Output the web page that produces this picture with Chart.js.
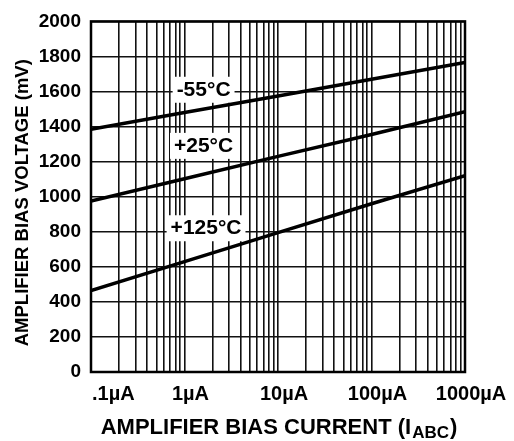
<!DOCTYPE html>
<html>
<head>
<meta charset="utf-8">
<script src="https://cdn.jsdelivr.net/npm/chart.js@4.4.0/dist/chart.umd.min.js"></script>
<style>
html, body { margin: 0; padding: 0; background: #fff; }
#wrap { width: 514px; height: 441px; }
</style>
</head>
<body>
<div id="wrap"><canvas id="chart"></canvas></div>
<script>
// amplifier bias current, µA
const currents = [0.1, 1, 10, 100, 1000];
// bias voltage in mV for each temperature
const voltsMinus55 = [1385, 1480, 1575, 1670, 1765];
const volts25 = [975, 1102, 1230, 1355, 1485];
const volts125 = [465, 630, 795, 960, 1120];

const tempLabels = ['-55°C', '+25°C', '+125°C'];
const tempLabelAt = [[1.6, 1610], [1.6, 1290], [1.7, 820]]; // [µA, mV]

const xTickValues = [0.1, 1, 10, 100, 1000];
const xTickLabels = ['.1µA', '1µA', '10µA', '100µA', '1000µA'];

const FONT = "'Liberation Sans', Arial, sans-serif";

// 1..9 lines in every decade
const gridValues = [];
[0.1, 1, 10, 100].forEach(d => {
    for (let k = 1; k <= 9; k++) gridValues.push(+(d * k).toPrecision(3));
});
gridValues.push(1000);

function series(values) {
    return values.map((v, i) => ({ x: currents[i], y: v }));
}

const curvePlugin = {
    id: 'curveExtras',
    beforeDatasetsDraw(chart) {
        const ctx = chart.ctx;
        const xs = chart.scales.x, ys = chart.scales.y;
        ctx.save();
        ctx.font = 'bold 21px ' + FONT;
        ctx.textAlign = 'center';
        ctx.textBaseline = 'middle';
        tempLabels.forEach((t, i) => {
            const px = xs.getPixelForValue(tempLabelAt[i][0]);
            const py = ys.getPixelForValue(tempLabelAt[i][1]);
            const w = ctx.measureText(t).width;
            ctx.fillStyle = '#fff';
            ctx.fillRect(px - w / 2 - 4, py - 13, w + 8, 26);
            ctx.fillStyle = '#000';
            ctx.fillText(t, px, py);
        });
        ctx.restore();
    },
    afterDraw(chart) {
        const ctx = chart.ctx;
        const a = chart.chartArea;
        const xs = chart.scales.x;
        ctx.save();
        // plot frame
        ctx.strokeStyle = '#000';
        ctx.lineWidth = 2.5;
        ctx.strokeRect(a.left, a.top, a.right - a.left, a.bottom - a.top);

        // x tick labels
        ctx.fillStyle = '#000';
        ctx.font = 'bold 20px ' + FONT;
        ctx.textBaseline = 'alphabetic';
        xTickValues.forEach((v, i) => {
            const px = xs.getPixelForValue(v);
            if (i === 0) {
                ctx.textAlign = 'left';
                ctx.fillText(xTickLabels[i], px + 1, 400);
            } else {
                ctx.textAlign = 'center';
                ctx.fillText(xTickLabels[i], px + 6, 400);
            }
        });

        // x title with subscript
        const main = 'AMPLIFIER BIAS CURRENT (I';
        const sub = 'ABC';
        const end = ')';
        ctx.font = 'bold 22px ' + FONT;
        const w1 = ctx.measureText(main).width;
        const w3 = ctx.measureText(end).width;
        ctx.font = 'bold 17px ' + FONT;
        const w2 = ctx.measureText(sub).width;
        let x0 = (a.left + a.right) / 2 - (w1 + w2 + w3) / 2;
        ctx.textAlign = 'left';
        ctx.font = 'bold 22px ' + FONT;
        ctx.fillText(main, x0, 434);
        ctx.font = 'bold 17px ' + FONT;
        ctx.fillText(sub, x0 + w1 + 1, 438);
        ctx.font = 'bold 22px ' + FONT;
        ctx.fillText(end, x0 + w1 + w2 + 2, 434);

        // y title
        ctx.translate(23, (a.top + a.bottom) / 2 + 6);
        ctx.rotate(-Math.PI / 2);
        ctx.textAlign = 'center';
        ctx.textBaseline = 'middle';
        ctx.font = 'bold 18.5px ' + FONT;
        ctx.fillText('AMPLIFIER BIAS VOLTAGE (mV)', 0, 0);
        ctx.restore();
    }
};

const lineStyle = {
    borderColor: '#000',
    borderWidth: 3.5,
    pointRadius: 0,
    tension: 0,
    fill: false
};

new Chart(document.getElementById('chart'), {
    type: 'line',
    data: {
        datasets: [
            { label: tempLabels[0], data: series(voltsMinus55), ...lineStyle },
            { label: tempLabels[1], data: series(volts25), ...lineStyle },
            { label: tempLabels[2], data: series(volts125), ...lineStyle }
        ]
    },
    options: {
        responsive: true,
        maintainAspectRatio: false,
        animation: false,
        devicePixelRatio: 1,
        layout: { padding: { top: 15, right: 49, left: 0, bottom: 0 } },
        plugins: {
            legend: { display: false },
            tooltip: { enabled: false }
        },
        scales: {
            x: {
                type: 'logarithmic',
                min: 0.1,
                max: 1000,
                afterBuildTicks: s => { s.ticks = gridValues.map(v => ({ value: v })); },
                afterFit: s => { s.height = 69; },
                ticks: { display: false },
                grid: { color: '#111', lineWidth: 1.6, drawTicks: false },
                border: { display: false }
            },
            y: {
                min: 0,
                max: 2000,
                afterFit: s => { s.width = 91; },
                ticks: {
                    stepSize: 200,
                    color: '#000',
                    padding: 10,
                    font: { family: FONT, size: 19, weight: 'bold' },
                    callback: v => String(v)
                },
                grid: { color: '#111', lineWidth: 1.6, drawTicks: false },
                border: { display: false }
            }
        }
    },
    plugins: [curvePlugin]
});
</script>
</body>
</html>
